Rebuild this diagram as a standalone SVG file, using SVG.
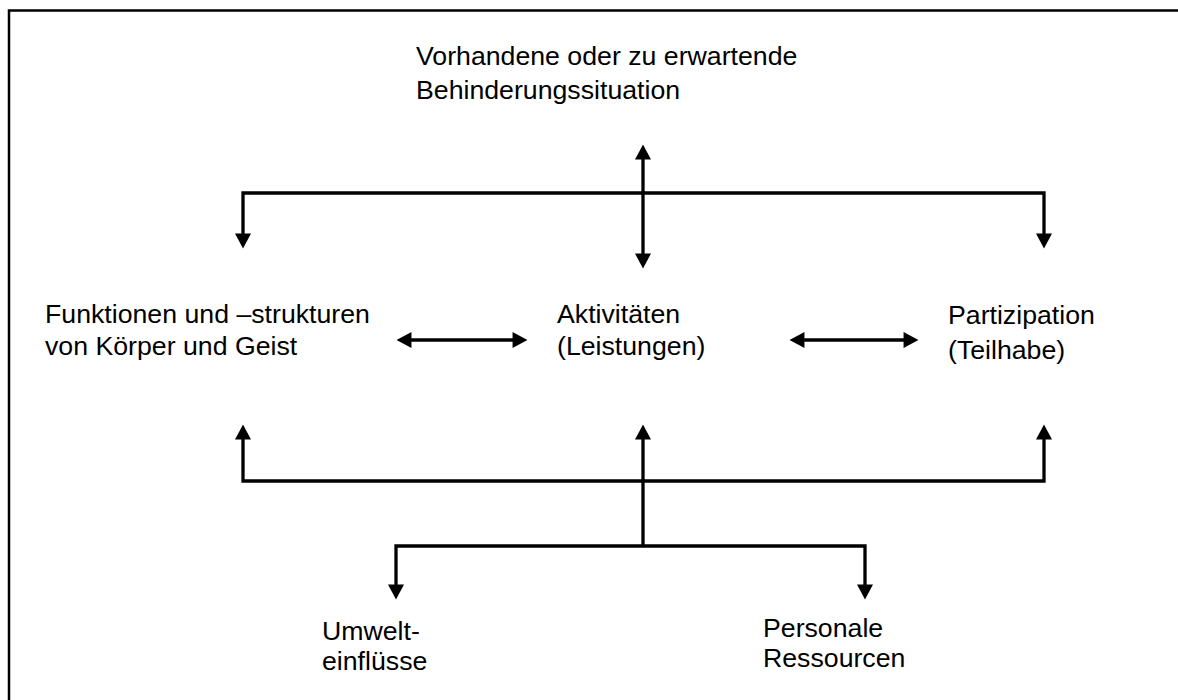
<svg xmlns="http://www.w3.org/2000/svg" width="1178" height="700" viewBox="0 0 1178 700">
<style>
text{font-family:"Liberation Sans",Arial,sans-serif;font-size:26.7px;fill:#000}
.c{fill:none;stroke:#000;stroke-width:3.3}
</style>
<defs>
<marker id="ah" markerUnits="userSpaceOnUse" markerWidth="16" markerHeight="16" viewBox="0 0 14 15" refX="7" refY="7.5" orient="auto-start-reverse">
<path d="M0,0 L14,7.5 L0,15 z" fill="#000"/>
</marker>
</defs>
<rect x="9" y="10.5" width="1300" height="900" fill="#fff" stroke="#000" stroke-width="2.5"/>
<g id="connectors">
<path class="c" d="M643,152 V261" marker-start="url(#ah)" marker-end="url(#ah)"/>
<path class="c" d="M243,241 V193 H1044 V241" marker-start="url(#ah)" marker-end="url(#ah)"/>
<path class="c" d="M404,340 H520" marker-start="url(#ah)" marker-end="url(#ah)"/>
<path class="c" d="M797,340 H911" marker-start="url(#ah)" marker-end="url(#ah)"/>
<path class="c" d="M243,432 V481 H1044 V432" marker-start="url(#ah)" marker-end="url(#ah)"/>
<path class="c" d="M643,546 V432" marker-end="url(#ah)"/>
<path class="c" d="M396,592 V546 H865 V592" marker-start="url(#ah)" marker-end="url(#ah)"/>
</g>
<g id="situation"><text x="416" y="65">Vorhandene oder zu erwartende</text><text x="416" y="99">Behinderungssituation</text></g>
<g id="funktionen"><text x="45" y="323">Funktionen und –strukturen</text><text x="45" y="355">von Körper und Geist</text></g>
<g id="aktivitaeten"><text x="557" y="323">Aktivitäten</text><text x="557" y="355">(Leistungen)</text></g>
<g id="partizipation"><text x="948" y="324">Partizipation</text><text x="948" y="359">(Teilhabe)</text></g>
<g id="umwelt"><text x="322" y="640">Umwelt-</text><text x="322" y="670">einflüsse</text></g>
<g id="personale"><text x="763" y="637">Personale</text><text x="763" y="667">Ressourcen</text></g>
</svg>
